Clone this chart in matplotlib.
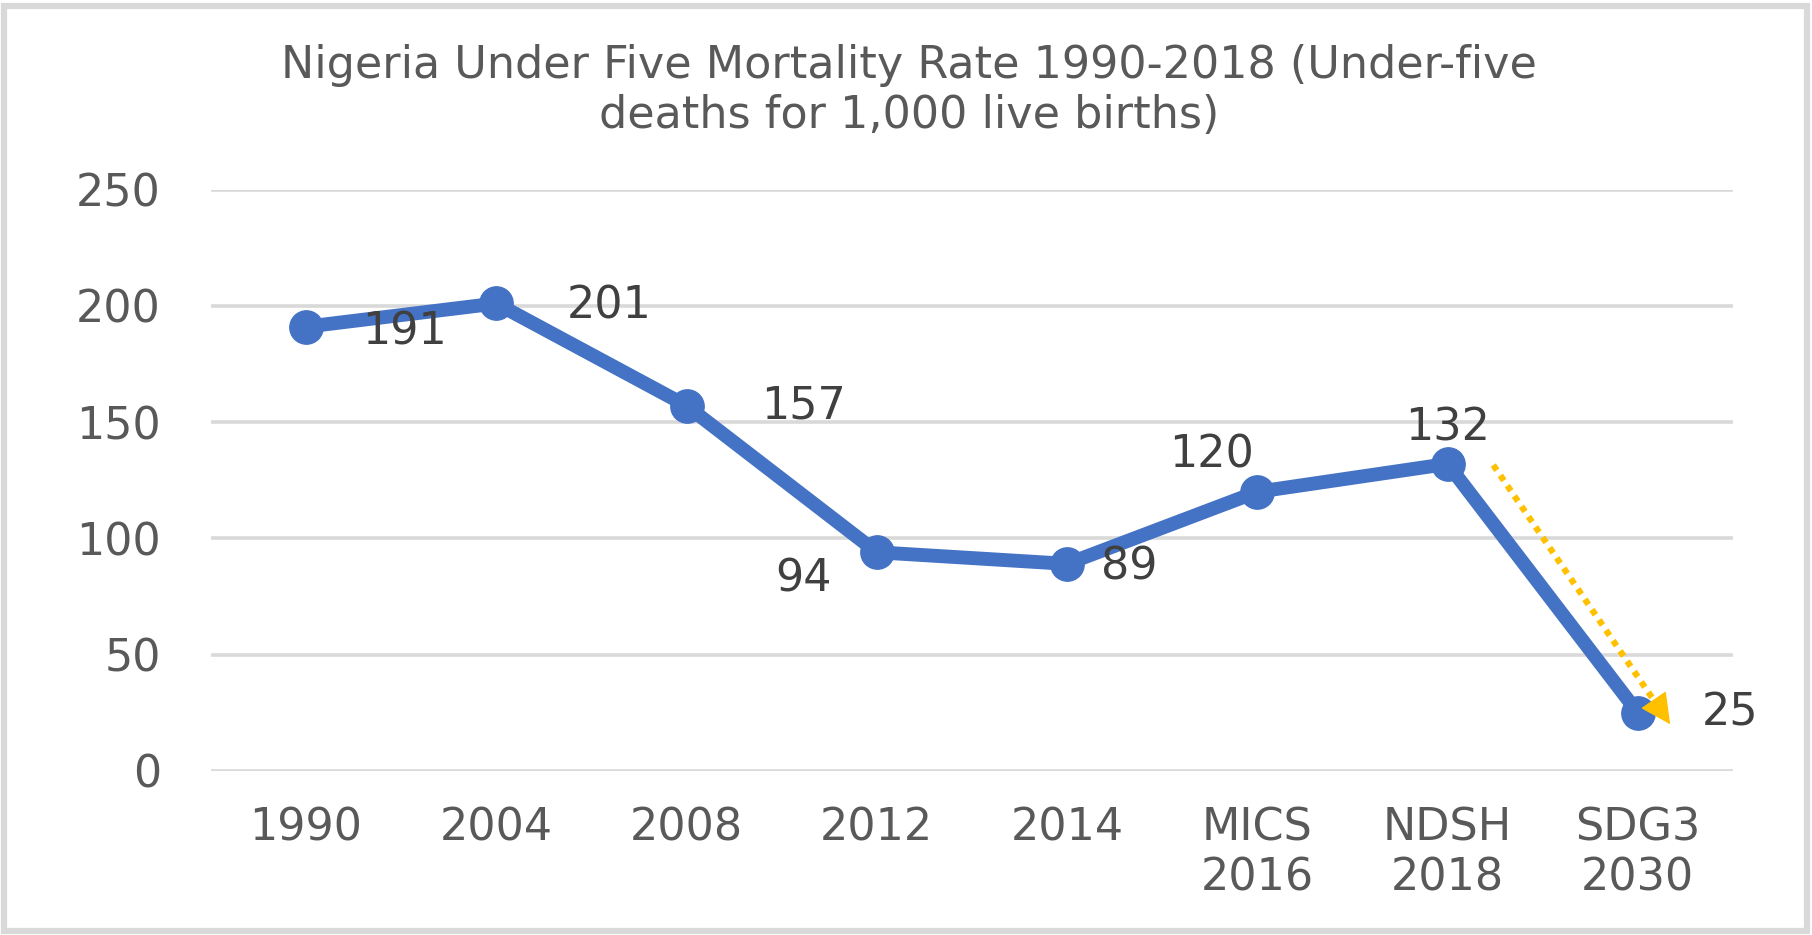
import matplotlib
matplotlib.use('Agg')
import matplotlib.pyplot as plt
from matplotlib.patches import Rectangle

# data
categories = ['1990', '2004', '2008', '2012', '2014', 'MICS\n2016', 'NDSH\n2018', 'SDG3\n2030']
rates = [191, 201, 157, 94, 89, 120, 132, 25]
# label offsets (pixels) relative to each point
label_dx = [98, 113, 117, -73, 62, -46, 0, 92]
label_dy = [-5, -3, 0, -27, -3, 37, 36, 0]

title = 'Nigeria Under Five Mortality Rate 1990-2018 (Under-five\ndeaths for 1,000 live births)'

blue = '#4472C4'
gold = '#FFC000'
grey_text = '#595959'

fig = plt.figure(figsize=(18.12, 9.35), dpi=100)
ax = fig.add_axes([0.1164, 0.1756, 0.84, 0.6217])

x = list(range(len(categories)))
ax.plot(x, rates, color=blue, linewidth=10, marker='o', markersize=24,
        solid_joinstyle='round', zorder=3)

for i, v in enumerate(rates):
    ax.annotate(str(v), (i, v), xytext=(label_dx[i], label_dy[i]),
                textcoords='offset pixels', ha='center', va='center',
                fontsize=32, color='#404040')

# dotted arrow from NDSH 2018 towards the SDG3 target
x0, y0 = 6 + 0.24, rates[6] - 0.5
x1, y1 = 7 + 0.17, rates[7] - 5
f = 0.92
xb, yb = x0 + f * (x1 - x0), y0 + f * (y1 - y0)
ax.plot([x0, xb], [y0, yb], color=gold, linewidth=4.5, linestyle=(0, (1, 1)),
        dash_capstyle='butt', zorder=4)
ax.annotate('', xy=(x1, y1), xytext=(xb, yb),
            arrowprops=dict(arrowstyle='-|>,head_length=0.9,head_width=0.45',
                            color=gold, linewidth=1, mutation_scale=22,
                            shrinkA=0, shrinkB=0), zorder=4)

ax.set_xlim(-0.5, len(categories) - 0.5)
ax.set_ylim(0, 250)
ax.set_yticks([0, 50, 100, 150, 200, 250])
ax.set_xticks(x)
ax.set_xticklabels(categories, linespacing=1.2)
ax.tick_params(axis='both', length=0, labelsize=32, labelcolor=grey_text)
ax.tick_params(axis='y', pad=36)
ax.tick_params(axis='x', pad=26)

ax.grid(axis='y', color='#D9D9D9', linewidth=2.6)
ax.set_axisbelow(True)
for s in ax.spines.values():
    s.set_visible(False)

fig.text(0.5015, 0.903, title, ha='center', va='center', fontsize=32,
         color=grey_text, linespacing=1.2)

# outer frame
fig.patches.append(Rectangle((0.002, 0.004), 0.995, 0.99, transform=fig.transFigure,
                             fill=False, edgecolor='#D9D9D9', linewidth=4.5))

fig.savefig('out.png', dpi=100)
